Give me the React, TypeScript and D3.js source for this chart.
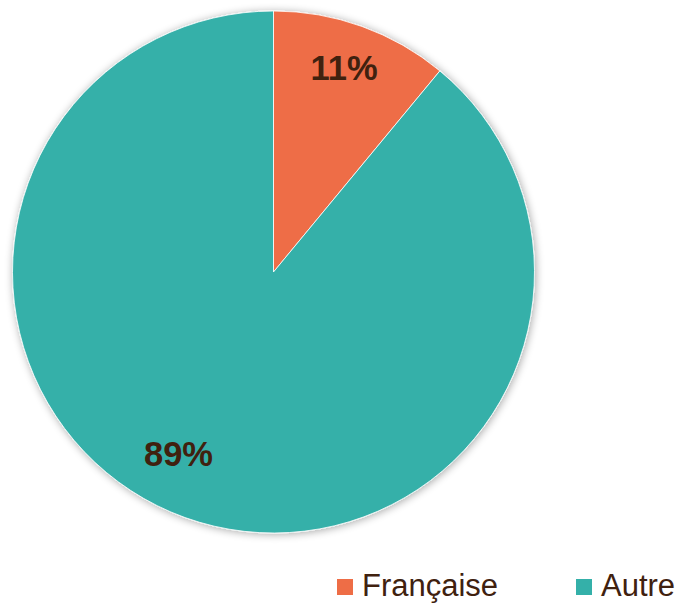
import React from "react";
import * as d3 from "d3";

const categories = ["Française", "Autre"];
const values = [11, 89];
const labels = ["11%", "89%"];
const colors = ["#EE6D46", "#34B0A9"];

export default function App() {
  const W = 679, H = 603;
  const cx = 273.5, cy = 272, r = 261;
  const pie = d3.pie<number>().sort(null).value((d) => d);
  const arcs = pie(values);
  const arc = d3.arc<d3.PieArcDatum<number>>().innerRadius(0).outerRadius(r);
  const textColor = "#40210F";
  const legendX = [337, 576];
  const labelPos = [[344, 80], [178.5, 466]];
  return (
    <svg width={W} height={H} style={{ position: "absolute", left: 0, top: 0 }}>
      <defs>
        <filter id="sh" x="-10%" y="-10%" width="120%" height="120%">
          <feGaussianBlur in="SourceAlpha" stdDeviation="4" />
          <feOffset dx="1" dy="1" result="b" />
          <feComponentTransfer>
            <feFuncA type="linear" slope="0.35" />
          </feComponentTransfer>
          <feMerge>
            <feMergeNode />
            <feMergeNode in="SourceGraphic" />
          </feMerge>
        </filter>
      </defs>
      <g transform={`translate(${cx},${cy})`}>
        <g filter="url(#sh)">
          {arcs.map((a, i) => (
            <path key={i} d={arc(a) || ""} fill={colors[i]} stroke="#fff" strokeWidth={0.8} />
          ))}
        </g>
      </g>
      {labels.map((l, i) => (
        <text key={l} x={labelPos[i][0]} y={labelPos[i][1]} textAnchor="middle" fontFamily="Liberation Sans, Arial, sans-serif" fontWeight="bold" fontSize={34.5} fill={textColor}>{l}</text>
      ))}
      {categories.map((c, i) => (
        <g key={c}>
          <rect x={legendX[i]} y={579} width={16} height={16} fill={colors[i]} />
          <text x={legendX[i] + 25} y={596} fontFamily="Liberation Sans, Arial, sans-serif" fontSize={31} fill={textColor}>{c}</text>
        </g>
      ))}
    </svg>
  );
}
